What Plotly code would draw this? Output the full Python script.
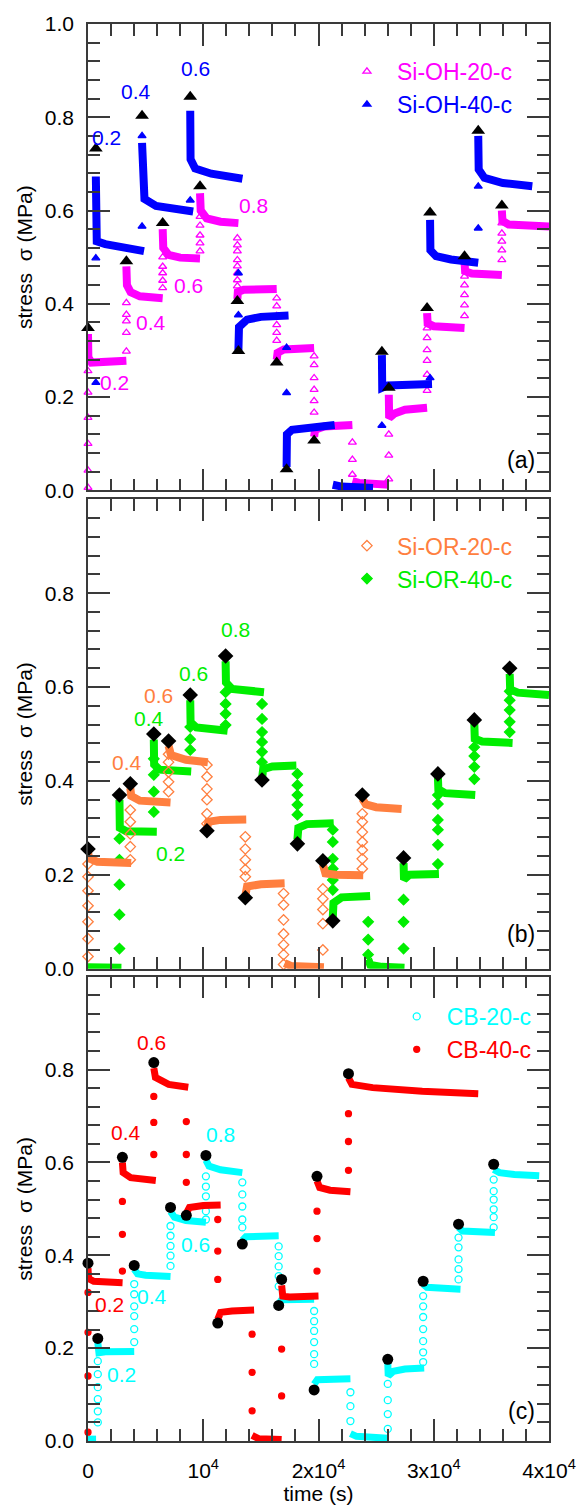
import plotly.graph_objects as go

# ---------------- Panel (a): Si-OH ----------------
OH20_STEP_T = [0, 3330, 6480, 9720, 12960, 16375, 19620, 22940, 26100, 29420, 32670, 35910]
OH20_RAMP_S = [
    [0.006, 0.043, 0.10, 0.156, 0.21, 0.256],
    [0.298, 0.338, 0.363, 0.377, 0.402],
    [0.434, 0.45, 0.466, 0.48, 0.50],
    [0.513, 0.53, 0.547, 0.568, 0.587],
    [0.541, 0.526, 0.513, 0.494, 0.481, 0.466, 0.451, 0.438],
    [0.412, 0.395, 0.374, 0.355, 0.338, 0.321],
    [0.288, 0.269, 0.241, 0.216, 0.192, 0.167],
    [0.103, 0.066, 0.034],
    [0.024, 0.075, 0.12],
    [0.214, 0.248, 0.278, 0.301, 0.327, 0.348],
    [0.374, 0.397, 0.419, 0.44, 0.459],
    [0.494, 0.515, 0.534, 0.551, 0.573],
]
OH20_PEAK_T = [0, 3330, 6480, 9720, 12960, 16375, 19620, 26100, 29420, 32670, 35910]
OH20_PEAK_S = [0.348, 0.491, 0.573, 0.652, 0.406, 0.274, 0.107, 0.22, 0.391, 0.502, 0.611]
OH20_RELAX = [
    [(0, 0.335), (30, 0.285), (300, 0.274), (1500, 0.277), (3330, 0.278)],
    [(3330, 0.48), (3380, 0.44), (3700, 0.425), (4500, 0.416), (6480, 0.412)],
    [(6480, 0.56), (6530, 0.52), (7000, 0.505), (8000, 0.499), (9720, 0.497)],
    [(9720, 0.637), (9780, 0.60), (10300, 0.583), (11500, 0.576), (13050, 0.573)],
    [(12960, 0.41), (13000, 0.425), (13500, 0.43), (16375, 0.432)],
    [(16375, 0.28), (16450, 0.295), (17000, 0.302), (19620, 0.305)],
    [(19620, 0.115), (19700, 0.13), (20500, 0.137), (22940, 0.14)],
    [(22940, 0.02), (23500, 0.016), (26100, 0.012)],
    [(26100, 0.205), (26130, 0.155), (26600, 0.165), (27500, 0.173), (29420, 0.177)],
    [(29420, 0.38), (29470, 0.358), (30000, 0.352), (32670, 0.348)],
    [(32670, 0.49), (32720, 0.47), (33300, 0.465), (35910, 0.462)],
    [(35910, 0.60), (35960, 0.578), (36500, 0.57), (40000, 0.566)],
]

OH40_STEP_T = [680, 4690, 8870, 13050, 17230, 25500, 29680, 33860]
OH40_RAMP_S = [
    [0.231, 0.498],
    [0.566, 0.76],
    [0.622],
    [0.466, 0.376],
    [0.306, 0.209],
    [0.139],
    [0.241],
    [0.562, 0.652],
]
OH40_PEAK_T = [680, 4690, 8870, 13050, 17230, 25500, 29680, 33860]
OH40_PEAK_S = [0.733, 0.803, 0.844, 0.299, 0.045, 0.297, 0.596, 0.771]
OH40_RELAX = [
    [(680, 0.673), (690, 0.55), (760, 0.534), (1500, 0.528), (3000, 0.52), (4860, 0.513)],
    [(4690, 0.745), (4720, 0.65), (4900, 0.625), (5900, 0.61), (9125, 0.598)],
    [(8870, 0.814), (8900, 0.71), (9300, 0.69), (10700, 0.679), (13400, 0.668)],
    [(13050, 0.30), (13100, 0.35), (13800, 0.366), (15000, 0.372), (17400, 0.375)],
    [(17230, 0.05), (17260, 0.12), (17700, 0.13), (19000, 0.135), (21400, 0.14)],
    [(21240, 0.012), (22000, 0.008), (24730, 0.005)],
    [(25500, 0.29), (25530, 0.22), (26000, 0.225), (29850, 0.228)],
    [(29680, 0.58), (29710, 0.515), (30200, 0.502), (31500, 0.495), (33860, 0.488)],
    [(33860, 0.76), (33900, 0.688), (34400, 0.67), (36000, 0.659), (38550, 0.652)],
]

# ---------------- Panel (b): Si-OR ----------------
OR20_STEP_T = [0, 3670, 6990, 10320, 13650, 16970, 20380, 23800]
OR20_RAMP_S = [
    [0.026, 0.064, 0.10, 0.134, 0.166, 0.196, 0.223],
    [0.232, 0.26, 0.287, 0.313, 0.338],
    [0.377, 0.398, 0.419, 0.44, 0.457],
    [0.434, 0.409, 0.383, 0.36, 0.33, 0.309],
    [0.281, 0.255, 0.232, 0.211, 0.196],
    [0.16, 0.136, 0.104, 0.074, 0.051, 0.03, 0.009],
    [0.04, 0.096, 0.126, 0.149, 0.17],
    [0.213, 0.234, 0.253, 0.27, 0.291, 0.313, 0.33],
]
OR20_PEAK_T = [0, 3670, 6990, 10320, 13650, 20380, 23800]
OR20_PEAK_S = [0.255, 0.394, 0.485, 0.294, 0.151, 0.23, 0.37]
OR20_RELAX = [
    [(0, 0.248), (100, 0.235), (800, 0.228), (3750, 0.225)],
    [(3670, 0.385), (3750, 0.368), (4500, 0.358), (7160, 0.354)],
    [(6990, 0.475), (7200, 0.455), (8500, 0.445), (10400, 0.44)],
    [(10320, 0.298), (10450, 0.313), (11500, 0.317), (13730, 0.318)],
    [(13650, 0.155), (13800, 0.175), (15000, 0.18), (17060, 0.182)],
    [(17060, 0.012), (17600, 0.006), (20470, 0.003)],
    [(20380, 0.222), (20600, 0.203), (21500, 0.2), (23880, 0.199)],
    [(23800, 0.362), (24100, 0.35), (25000, 0.344), (27210, 0.34)],
]

OR40_STEP_T = [2730, 5710, 8870, 11940, 15100, 18170, 21240, 24310, 27380, 30360, 33520, 36590]
OR40_RAMP_S = [
    [0.043, 0.115, 0.179, 0.232, 0.277],
    [0.334, 0.377, 0.413, 0.447],
    [0.466, 0.489, 0.515],
    [0.519, 0.543, 0.564, 0.589],
    [0.564, 0.532, 0.504, 0.483, 0.462, 0.44],
    [0.415, 0.391, 0.37, 0.349, 0.328],
    [0.296, 0.27, 0.234, 0.213, 0.189, 0.168],
    [0.10, 0.062, 0.03],
    [0.043, 0.10, 0.147],
    [0.223, 0.264, 0.296, 0.317, 0.351, 0.37],
    [0.404, 0.43, 0.453, 0.472],
    [0.504, 0.526, 0.551, 0.572, 0.591],
]
OR40_PEAK_T = [2730, 5710, 8870, 11940, 15100, 18170, 21240, 27380, 30360, 33520, 36590]
OR40_PEAK_S = [0.37, 0.50, 0.583, 0.666, 0.402, 0.266, 0.102, 0.236, 0.415, 0.53, 0.64]
OR40_RELAX = [
    [(0, 0.003), (2900, 0.002)],
    [(2730, 0.36), (2760, 0.30), (3300, 0.293), (5970, 0.292)],
    [(5710, 0.488), (5740, 0.435), (6200, 0.424), (8955, 0.42)],
    [(8870, 0.572), (8900, 0.525), (9400, 0.514), (12110, 0.507)],
    [(11940, 0.655), (11970, 0.61), (12500, 0.596), (15270, 0.589)],
    [(15100, 0.405), (15200, 0.425), (16000, 0.431), (18080, 0.433)],
    [(18170, 0.275), (18250, 0.30), (19000, 0.308), (21320, 0.31)],
    [(21240, 0.11), (21300, 0.14), (22000, 0.152), (24480, 0.155)],
    [(24310, 0.02), (24500, 0.008), (25500, 0.004), (27460, 0.002)],
    [(27380, 0.225), (27420, 0.19), (27900, 0.2), (30450, 0.202)],
    [(30360, 0.408), (30400, 0.382), (31000, 0.374), (33600, 0.37)],
    [(33520, 0.522), (33560, 0.49), (34200, 0.484), (36840, 0.481)],
    [(36590, 0.628), (36630, 0.595), (37300, 0.588), (40000, 0.583)],
]

# ---------------- Panel (c): CB ----------------
CB20_STEP_T = [850, 4010, 7160, 10230, 13390, 16545, 19620, 22770, 26010, 29080, 32150, 35200]
CB20_RAMP_S = [
    [0.04, 0.064, 0.09, 0.116, 0.144, 0.172],
    [0.213, 0.241, 0.269, 0.29, 0.316, 0.338],
    [0.377, 0.399, 0.42, 0.442, 0.463],
    [0.477, 0.495, 0.527, 0.548, 0.57],
    [0.557, 0.531, 0.505, 0.477, 0.46],
    [0.419, 0.398, 0.376, 0.355, 0.333],
    [0.28, 0.258, 0.237, 0.213, 0.187, 0.166],
    [0.105, 0.075, 0.043],
    [0.026, 0.058, 0.088, 0.123],
    [0.17, 0.191, 0.215, 0.241, 0.267, 0.29, 0.312],
    [0.348, 0.37, 0.391, 0.417, 0.438],
    [0.46, 0.482, 0.499, 0.52, 0.538, 0.563],
]
CB20_PEAK_T = [850, 4010, 7160, 10230, 13390, 16545, 19620, 26010, 29080, 32150, 35200]
CB20_PEAK_S = [0.221, 0.378, 0.503, 0.615, 0.424, 0.292, 0.11, 0.176, 0.344, 0.467, 0.596]
CB20_RELAX = [
    [(0, 0.004), (700, 0.004)],
    [(850, 0.212), (950, 0.19), (1500, 0.192), (4010, 0.193)],
    [(4010, 0.37), (4300, 0.36), (5000, 0.357), (7160, 0.354)],
    [(7160, 0.494), (7500, 0.482), (8500, 0.475), (10230, 0.471)],
    [(10230, 0.605), (10500, 0.592), (11500, 0.584), (13390, 0.578)],
    [(13390, 0.432), (13700, 0.44), (16545, 0.442)],
    [(16545, 0.295), (16800, 0.304), (19620, 0.305)],
    [(19620, 0.122), (19900, 0.132), (22770, 0.134)],
    [(22770, 0.016), (23300, 0.01), (26010, 0.006)],
    [(26010, 0.168), (26050, 0.14), (26500, 0.15), (27500, 0.155), (29170, 0.157)],
    [(29080, 0.338), (29400, 0.331), (32320, 0.327)],
    [(32150, 0.46), (32500, 0.452), (35310, 0.449)],
    [(35200, 0.585), (35700, 0.578), (37000, 0.574), (39150, 0.571)],
]

CB40_STEP_T = [0, 2985, 5710, 8530, 11260, 14240, 16800, 19870, 22600]
CB40_RAMP_S = [
    [0.019, 0.14, 0.234, 0.32],
    [0.366, 0.445, 0.516],
    [0.617, 0.686, 0.742],
    [0.688, 0.617, 0.557],
    [0.477, 0.409, 0.348],
    [0.23, 0.148, 0.065],
    [0.097, 0.198],
    [0.366, 0.436, 0.495],
    [0.583, 0.645, 0.705],
]
CB40_PEAK_T = [0, 2985, 5710, 8530, 11260, 16800, 19870, 22600]
CB40_PEAK_S = [0.383, 0.611, 0.815, 0.486, 0.254, 0.348, 0.57, 0.791]
CB40_RELAX = [
    [(0, 0.372), (50, 0.35), (500, 0.344), (3000, 0.341)],
    [(2985, 0.60), (3050, 0.578), (3700, 0.567), (5885, 0.561)],
    [(5710, 0.803), (5850, 0.783), (7000, 0.768), (8700, 0.762)],
    [(8530, 0.49), (8800, 0.503), (10000, 0.507), (11510, 0.508)],
    [(11260, 0.262), (11500, 0.277), (12500, 0.28), (14410, 0.282)],
    [(14240, 0.012), (14800, 0.005), (16800, 0.003)],
    [(16800, 0.335), (16900, 0.312), (17500, 0.31), (20000, 0.312)],
    [(19870, 0.56), (20100, 0.546), (21000, 0.54), (22770, 0.537)],
    [(22600, 0.782), (22900, 0.768), (24700, 0.761), (29000, 0.753), (33860, 0.748)],
]

# step labels: (text, t, stress)
LABELS_A_20 = [("0.2", 2300, 0.231), ("0.4", 5460, 0.359), ("0.6", 8700, 0.44), ("0.8", 14400, 0.611)]
LABELS_A_40 = [("0.2", 1600, 0.757), ("0.4", 4180, 0.855), ("0.6", 9300, 0.904)]
LABELS_B_20 = [("0.4", 3410, 0.44), ("0.6", 6140, 0.583)]
LABELS_B_40 = [("0.2", 7160, 0.245), ("0.4", 5290, 0.532), ("0.6", 9130, 0.628), ("0.8", 12790, 0.723)]
LABELS_C_20 = [("0.2", 2900, 0.144), ("0.4", 5540, 0.312), ("0.6", 9300, 0.424), ("0.8", 11510, 0.66)]
LABELS_C_40 = [("0.2", 1880, 0.295), ("0.4", 3330, 0.665), ("0.6", 5540, 0.858)]

X_TICKS = [0, 10000, 20000, 30000, 40000]
X_TICKTEXT = ["0", "10<sup>4</sup>", "2x10<sup>4</sup>", "3x10<sup>4</sup>", "4x10<sup>4</sup>"]

FONT = "Liberation Sans, Arial, sans-serif"
MAGENTA, BLUE = "#FF00FF", "#0000FF"
ORANGE, GREEN = "#FF7F3F", "#00EE00"
CYAN, RED = "#00FFFF", "#FF0000"
AXC = "#3a3a3a"


def ramp_xy(step_t, ramp_s):
    xs, ys = [], []
    for t, vals in zip(step_t, ramp_s):
        for v in vals:
            xs.append(t)
            ys.append(v)
    return xs, ys


def relax_xy(segs):
    xs, ys = [], []
    for seg in segs:
        for t, v in seg:
            xs.append(t)
            ys.append(v)
        xs.append(None)
        ys.append(None)
    return xs, ys


fig = go.Figure()


def add_series(row, name, color, symbol, msize, lw, step_t, ramp_s, relax, legend, lgroup):
    xa = "x" if row == 1 else "x%d" % row
    ya = "y" if row == 1 else "y%d" % row
    rx, ry = relax_xy(relax)
    fig.add_trace(go.Scatter(x=rx, y=ry, mode="lines", xaxis=xa, yaxis=ya,
                             line=dict(color=color, width=lw), showlegend=False,
                             hoverinfo="skip", cliponaxis=False))
    px, py = ramp_xy(step_t, ramp_s)
    fig.add_trace(go.Scatter(x=px, y=py, mode="markers", xaxis=xa, yaxis=ya,
                             marker=dict(symbol=symbol, color=color, size=msize,
                                         line=dict(color=color, width=1.3)),
                             name="<span style='color:%s'>%s</span>" % (color, name),
                             legend=legend, legendgroup=lgroup, cliponaxis=False))


def add_peaks(row, symbol, size, ts, ss):
    xa = "x" if row == 1 else "x%d" % row
    ya = "y" if row == 1 else "y%d" % row
    fig.add_trace(go.Scatter(x=ts, y=ss, mode="markers", xaxis=xa, yaxis=ya,
                             marker=dict(symbol=symbol, color="black", size=size),
                             showlegend=False, cliponaxis=False))


add_series(1, "Si-OH-20-c", MAGENTA, "triangle-up-open", 7, 8, OH20_STEP_T, OH20_RAMP_S, OH20_RELAX, "legend", "a1")
add_series(1, "Si-OH-40-c", BLUE, "triangle-up", 7, 8, OH40_STEP_T, OH40_RAMP_S, OH40_RELAX, "legend", "a2")
add_peaks(1, "triangle-up", 12, OH20_PEAK_T + OH40_PEAK_T, OH20_PEAK_S + OH40_PEAK_S)

add_series(2, "Si-OR-40-c", GREEN, "diamond", 8, 8, OR40_STEP_T, OR40_RAMP_S, OR40_RELAX, "legend2", "b2")
add_series(2, "Si-OR-20-c", ORANGE, "diamond-open", 8, 8, OR20_STEP_T, OR20_RAMP_S, OR20_RELAX, "legend2", "b1")
add_peaks(2, "diamond", 12, OR20_PEAK_T + OR40_PEAK_T, OR20_PEAK_S + OR40_PEAK_S)

add_series(3, "CB-20-c", CYAN, "circle-open", 7, 7, CB20_STEP_T, CB20_RAMP_S, CB20_RELAX, "legend3", "c1")
add_series(3, "CB-40-c", RED, "circle", 6, 7, CB40_STEP_T, CB40_RAMP_S, CB40_RELAX, "legend3", "c2")
add_peaks(3, "circle", 11, CB20_PEAK_T + CB40_PEAK_T, CB20_PEAK_S + CB40_PEAK_S)

annotations = []
for labels, color, xr, yr in [
    (LABELS_A_20, MAGENTA, "x", "y"), (LABELS_A_40, BLUE, "x", "y"),
    (LABELS_B_20, ORANGE, "x2", "y2"), (LABELS_B_40, GREEN, "x2", "y2"),
    (LABELS_C_20, CYAN, "x3", "y3"), (LABELS_C_40, RED, "x3", "y3")]:
    for txt, t, s in labels:
        annotations.append(dict(text=txt, x=t, y=s, xref=xr, yref=yr, showarrow=False,
                                xanchor="center", yanchor="middle",
                                font=dict(family=FONT, size=21, color=color)))
for txt, yr, yy in [("(a)", "y", 0.066), ("(b)", "y2", 0.075), ("(c)", "y3", 0.065)]:
    xr = {"y": "x", "y2": "x2", "y3": "x3"}[yr]
    annotations.append(dict(text=txt, x=0.94, y=yy, xref=xr + " domain", yref=yr + " domain",
                            xanchor="center", yanchor="middle", showarrow=False,
                            font=dict(family=FONT, size=23, color="black")))

DOMAINS = {"a": [0.6709, 1.0], "b": [0.3333, 0.6646], "c": [0.0, 0.3277]}

common = dict(showline=True, linecolor=AXC, linewidth=1.5, mirror="ticks", ticks="inside",
              ticklen=22, tickwidth=1.5, tickcolor=AXC, showgrid=False, zeroline=False,
              tickfont=dict(family=FONT, size=21, color="black"))

xcommon = dict(common, range=[0, 40000], tickmode="array", tickvals=X_TICKS, ticktext=X_TICKTEXT,
               minor=dict(ticks="inside", ticklen=12, tickwidth=1.5, tickcolor=AXC, dtick=2000, tick0=0))

y_full = [0, 0.2, 0.4, 0.6, 0.8, 1.0]
y_part = [0, 0.2, 0.4, 0.6, 0.8]
ycommon = dict(common, range=[0, 1.0], tickmode="array", tickformat=".1f",
               minor=dict(ticks="inside", ticklen=12, tickwidth=1.5, tickcolor=AXC, dtick=0.04, tick0=0),
               title=dict(text="stress  \u03c3 (MPa)", font=dict(family=FONT, size=21, color="black"), standoff=6),
               ticklabelstandoff=8)

LEG = dict(xanchor="left", yanchor="top", bgcolor="rgba(0,0,0,0)",
           font=dict(family=FONT, size=23), tracegroupgap=0, itemwidth=50)

fig.update_layout(
    width=588, height=1509,
    margin=dict(l=88, r=31, t=20, b=67),
    paper_bgcolor="white", plot_bgcolor="white",
    font=dict(family=FONT, size=21, color="black"),
    xaxis=dict(xcommon, anchor="y", showticklabels=False),
    xaxis2=dict(xcommon, anchor="y2", matches="x", showticklabels=False),
    xaxis3=dict(xcommon, anchor="y3", matches="x", ticklabelstandoff=10,
                title=dict(text="time (s)", font=dict(family=FONT, size=21, color="black"), standoff=0)),
    yaxis=dict(ycommon, domain=DOMAINS["a"], anchor="x", tickvals=y_full),
    yaxis2=dict(ycommon, domain=DOMAINS["b"], anchor="x2", tickvals=y_part),
    yaxis3=dict(ycommon, domain=DOMAINS["c"], anchor="x3", tickvals=y_part),
    legend=dict(LEG, x=0.54, y=0.9817),
    legend2=dict(LEG, x=0.54, y=0.647, traceorder="reversed"),
    legend3=dict(LEG, x=0.648, y=0.3148),
    annotations=annotations,
)

fig.write_html("out.html", config={"displayModeBar": False},
               post_script="document.body.style.margin='0';")
